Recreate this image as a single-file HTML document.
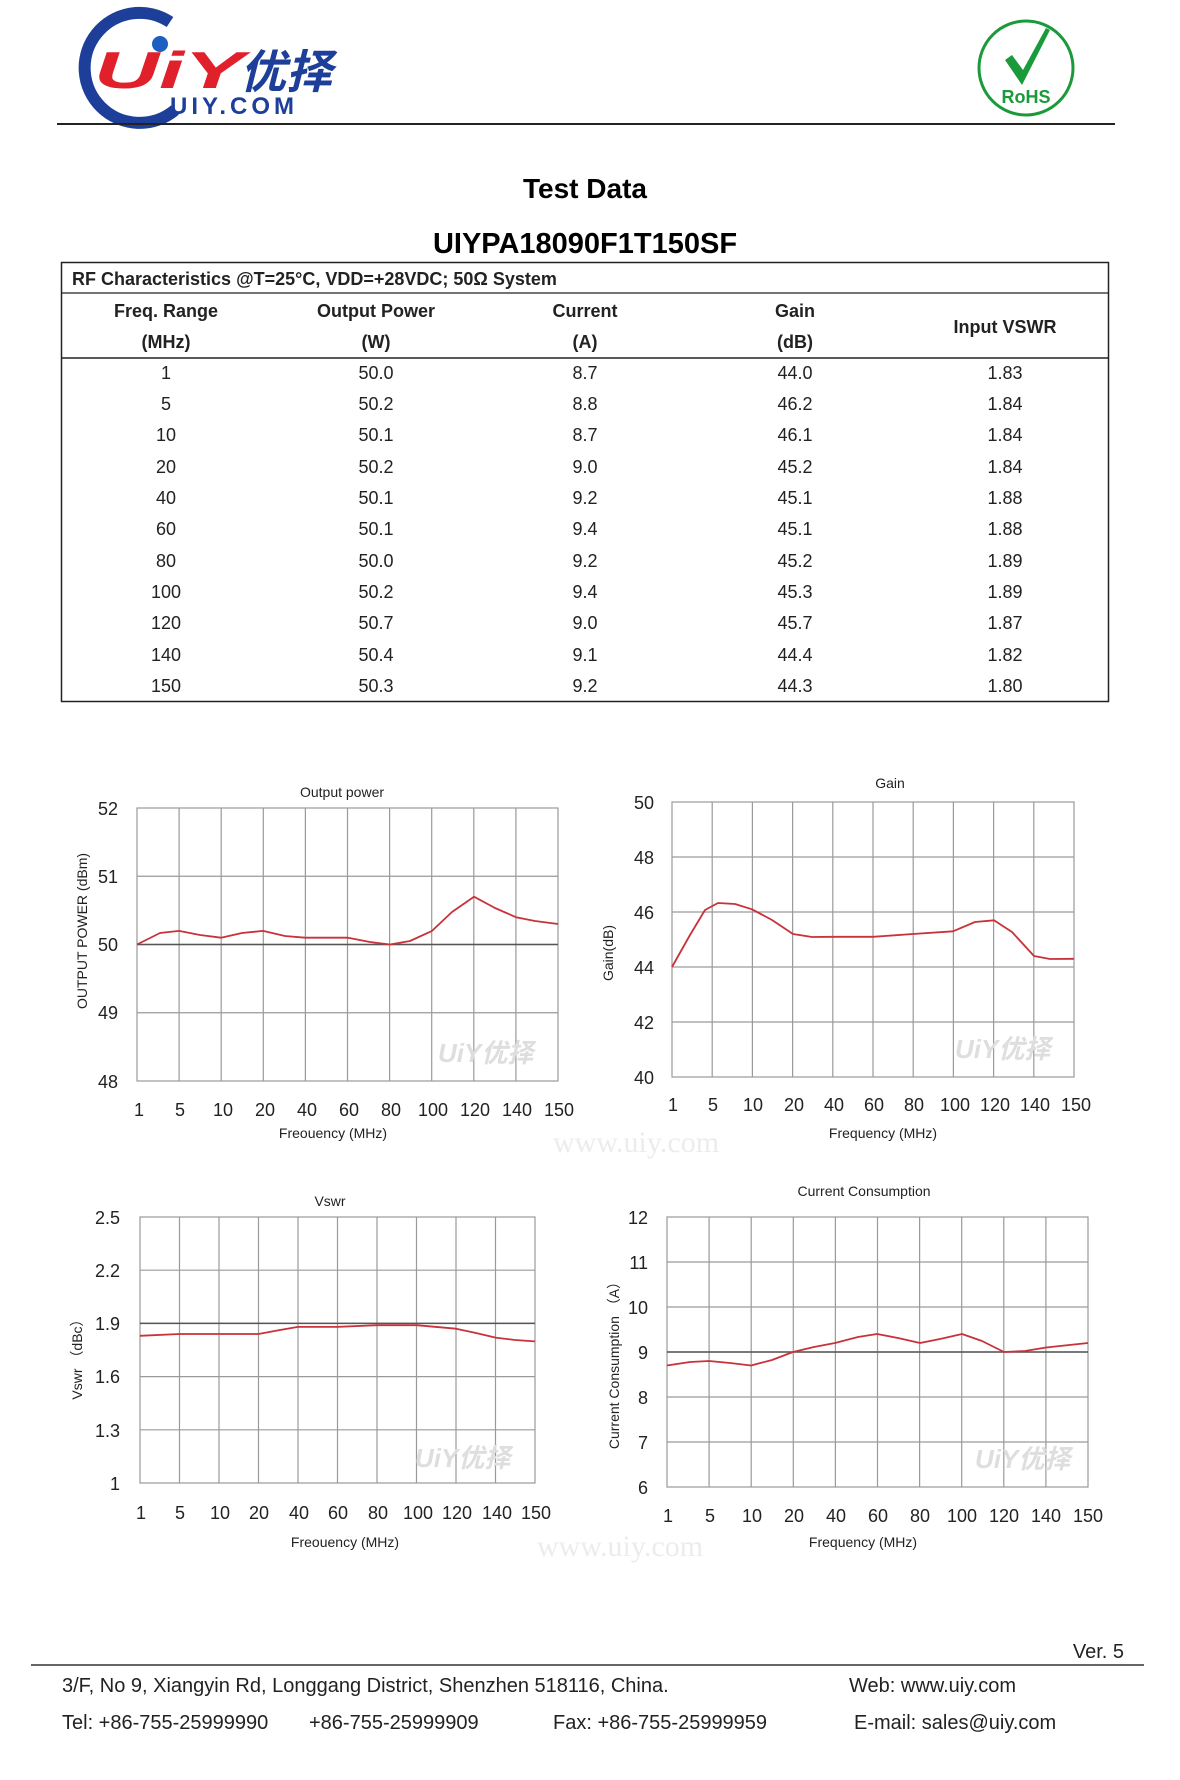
<!DOCTYPE html>
<html><head><meta charset="utf-8">
<style>
html,body{margin:0;padding:0;background:#fff;}
body{width:1180px;height:1780px;position:relative;overflow:hidden;font-family:"Liberation Sans","Noto Sans CJK SC",sans-serif;color:#111;}
</style></head><body>
<svg width="1180" height="1780" style="position:absolute;left:0;top:0" xmlns="http://www.w3.org/2000/svg" font-family="Liberation Sans, Noto Sans CJK SC, sans-serif">
<!-- logo -->
<path d="M170,22 A55,55 0 1 0 175,110" fill="none" stroke="#1d3f9a" stroke-width="12"/>
<text x="94" y="88" font-size="52" font-weight="bold" font-style="italic" fill="#e0202a" textLength="150" lengthAdjust="spacingAndGlyphs">UiY</text>
<circle cx="160" cy="44" r="8" fill="#1d5fc0"/>
<text x="240" y="88" font-size="46" font-weight="bold" font-style="italic" fill="#1d3f9a" font-family="Noto Sans CJK SC, sans-serif">优择</text>
<text x="170" y="114" font-size="24" font-weight="bold" fill="#1d3f9a" letter-spacing="4">UIY.COM</text>
<!-- RoHS -->
<circle cx="1026" cy="68" r="47" fill="none" stroke="#1a9a3a" stroke-width="3"/>
<path d="M1005,60 L1022,85 L1050,30 L1046,28 L1023,70 L1012,55 Z" fill="#1a9a3a"/>
<text x="1026" y="103" font-size="18" font-weight="bold" fill="#1a9a3a" text-anchor="middle">RoHS</text>
<line x1="57" y1="124" x2="1115" y2="124" stroke="#222" stroke-width="2"/>
<!-- titles -->
<text x="585" y="198" font-size="28" font-weight="bold" text-anchor="middle">Test Data</text>
<text x="585" y="253" font-size="29" font-weight="bold" text-anchor="middle">UIYPA18090F1T150SF</text>
<!-- table -->
<rect x="61.5" y="262.5" width="1047" height="439" fill="none" stroke="#222" stroke-width="1.5"/>
<line x1="61" y1="293" x2="1109" y2="293" stroke="#222" stroke-width="1.2"/>
<line x1="61" y1="358" x2="1109" y2="358" stroke="#222" stroke-width="1.5"/>
<text x="72" y="285" font-size="18" font-weight="bold" fill="#222">RF Characteristics @T=25°C, VDD=+28VDC; 50Ω System</text>
<g font-size="18" font-weight="bold" text-anchor="middle" fill="#222">
<text x="166" y="317">Freq. Range</text><text x="166" y="348">(MHz)</text>
<text x="376" y="317">Output Power</text><text x="376" y="348">(W)</text>
<text x="585" y="317">Current</text><text x="585" y="348">(A)</text>
<text x="795" y="317">Gain</text><text x="795" y="348">(dB)</text>
<text x="1005" y="333">Input VSWR</text>
</g>
<g font-size="18" text-anchor="middle" fill="#222">
<text x="166" y="379">1</text><text x="376" y="379">50.0</text><text x="585" y="379">8.7</text><text x="795" y="379">44.0</text><text x="1005" y="379">1.83</text>
<text x="166" y="410">5</text><text x="376" y="410">50.2</text><text x="585" y="410">8.8</text><text x="795" y="410">46.2</text><text x="1005" y="410">1.84</text>
<text x="166" y="441">10</text><text x="376" y="441">50.1</text><text x="585" y="441">8.7</text><text x="795" y="441">46.1</text><text x="1005" y="441">1.84</text>
<text x="166" y="473">20</text><text x="376" y="473">50.2</text><text x="585" y="473">9.0</text><text x="795" y="473">45.2</text><text x="1005" y="473">1.84</text>
<text x="166" y="504">40</text><text x="376" y="504">50.1</text><text x="585" y="504">9.2</text><text x="795" y="504">45.1</text><text x="1005" y="504">1.88</text>
<text x="166" y="535">60</text><text x="376" y="535">50.1</text><text x="585" y="535">9.4</text><text x="795" y="535">45.1</text><text x="1005" y="535">1.88</text>
<text x="166" y="567">80</text><text x="376" y="567">50.0</text><text x="585" y="567">9.2</text><text x="795" y="567">45.2</text><text x="1005" y="567">1.89</text>
<text x="166" y="598">100</text><text x="376" y="598">50.2</text><text x="585" y="598">9.4</text><text x="795" y="598">45.3</text><text x="1005" y="598">1.89</text>
<text x="166" y="629">120</text><text x="376" y="629">50.7</text><text x="585" y="629">9.0</text><text x="795" y="629">45.7</text><text x="1005" y="629">1.87</text>
<text x="166" y="661">140</text><text x="376" y="661">50.4</text><text x="585" y="661">9.1</text><text x="795" y="661">44.4</text><text x="1005" y="661">1.82</text>
<text x="166" y="692">150</text><text x="376" y="692">50.3</text><text x="585" y="692">9.2</text><text x="795" y="692">44.3</text><text x="1005" y="692">1.80</text>
</g>

<!-- Chart 1 -->
<g stroke="#9a9a9a" stroke-width="1.2" fill="none">
<rect x="137" y="808" width="421" height="273"/>
<path d="M179.1,808V1081M221.2,808V1081M263.3,808V1081M305.4,808V1081M347.5,808V1081M389.6,808V1081M431.7,808V1081M473.8,808V1081M515.9,808V1081"/>
<path d="M137,876.25H558M137,944.5H558M137,1012.75H558"/>
</g>
<line x1="137" y1="944.5" x2="558" y2="944.5" stroke="#555" stroke-width="1.5"/>
<polyline fill="none" stroke="#c8323a" stroke-width="1.8" stroke-linejoin="round" points="137,944.5 160,933 179,930.9 200,935 221,937.7 242,933 263,930.9 285,936 305,937.7 348,937.7 370,942 390,944.5 410,941 432,930.9 452,912 474,896.7 495,908 516,917.2 535,921 558,924"/>
<g font-size="18" fill="#222" text-anchor="end">
<text x="118" y="815">52</text><text x="118" y="883">51</text><text x="118" y="951">50</text><text x="118" y="1019">49</text><text x="118" y="1088">48</text></g>
<g font-size="18" fill="#222" text-anchor="middle">
<text x="139" y="1116">1</text><text x="180" y="1116">5</text><text x="223" y="1116">10</text><text x="265" y="1116">20</text><text x="307" y="1116">40</text><text x="349" y="1116">60</text><text x="391" y="1116">80</text><text x="433" y="1116">100</text><text x="475" y="1116">120</text><text x="517" y="1116">140</text><text x="559" y="1116">150</text></g>
<text x="342" y="797" font-size="14" text-anchor="middle" fill="#222">Output power</text>
<text x="333" y="1138" font-size="14" text-anchor="middle" fill="#222">Freouency (MHz)</text>
<text transform="translate(87,931) rotate(-90)" font-size="14" text-anchor="middle" fill="#222">OUTPUT POWER (dBm)</text>

<!-- Chart 2 -->
<g stroke="#9a9a9a" stroke-width="1.2" fill="none">
<rect x="672" y="802" width="402" height="275"/>
<path d="M712.2,802V1077M752.4,802V1077M792.6,802V1077M832.8,802V1077M873,802V1077M913.2,802V1077M953.4,802V1077M993.6,802V1077M1033.8,802V1077"/>
<path d="M672,857H1074M672,912H1074M672,967H1074M672,1022H1074"/>
</g>
<polyline fill="none" stroke="#c8323a" stroke-width="1.8" stroke-linejoin="round" points="672,967 690,935 705,910 718,903 735,904 752,909.3 772,920 793,934 812,937 833,936.8 873,936.8 913,934 953,931.3 975,922 994,920.3 1012,932 1034,956 1050,959 1074,958.8"/>
<g font-size="18" fill="#222" text-anchor="end">
<text x="654" y="809">50</text><text x="654" y="864">48</text><text x="654" y="919">46</text><text x="654" y="974">44</text><text x="654" y="1029">42</text><text x="654" y="1084">40</text></g>
<g font-size="18" fill="#222" text-anchor="middle">
<text x="673" y="1111">1</text><text x="713" y="1111">5</text><text x="753" y="1111">10</text><text x="794" y="1111">20</text><text x="834" y="1111">40</text><text x="874" y="1111">60</text><text x="914" y="1111">80</text><text x="955" y="1111">100</text><text x="995" y="1111">120</text><text x="1035" y="1111">140</text><text x="1076" y="1111">150</text></g>
<text x="890" y="788" font-size="14" text-anchor="middle" fill="#222">Gain</text>
<text x="883" y="1138" font-size="14" text-anchor="middle" fill="#222">Frequency (MHz)</text>
<text transform="translate(613,953) rotate(-90)" font-size="14" text-anchor="middle" fill="#222">Gain(dB)</text>

<!-- Chart 3 -->
<g stroke="#9a9a9a" stroke-width="1.2" fill="none">
<rect x="140" y="1217" width="395" height="266"/>
<path d="M179.5,1217V1483M219,1217V1483M258.5,1217V1483M298,1217V1483M337.5,1217V1483M377,1217V1483M416.5,1217V1483M456,1217V1483M495.5,1217V1483"/>
<path d="M140,1270.2H535M140,1323.4H535M140,1376.6H535M140,1429.8H535"/>
</g>
<line x1="140" y1="1323.4" x2="535" y2="1323.4" stroke="#555" stroke-width="1.5"/>
<polyline fill="none" stroke="#c8323a" stroke-width="1.8" stroke-linejoin="round" points="140,1335.8 179.5,1334 258.5,1334 280,1330 298,1326.9 337.5,1326.9 377,1325.2 416.5,1325.2 456,1328.7 476,1333 495.5,1337.6 515,1340 535,1341.4"/>
<g font-size="18" fill="#222" text-anchor="end">
<text x="120" y="1224">2.5</text><text x="120" y="1277">2.2</text><text x="120" y="1330">1.9</text><text x="120" y="1383">1.6</text><text x="120" y="1437">1.3</text><text x="120" y="1490">1</text></g>
<g font-size="18" fill="#222" text-anchor="middle">
<text x="141" y="1519">1</text><text x="180" y="1519">5</text><text x="220" y="1519">10</text><text x="259" y="1519">20</text><text x="299" y="1519">40</text><text x="338" y="1519">60</text><text x="378" y="1519">80</text><text x="418" y="1519">100</text><text x="457" y="1519">120</text><text x="497" y="1519">140</text><text x="536" y="1519">150</text></g>
<text x="330" y="1206" font-size="14" text-anchor="middle" fill="#222">Vswr</text>
<text x="345" y="1547" font-size="14" text-anchor="middle" fill="#222">Freouency (MHz)</text>
<text transform="translate(82,1356) rotate(-90)" font-size="14" text-anchor="middle" fill="#222">Vswr （dBc）</text>

<!-- Chart 4 -->
<g stroke="#9a9a9a" stroke-width="1.2" fill="none">
<rect x="667" y="1217" width="421" height="270"/>
<path d="M709.1,1217V1487M751.2,1217V1487M793.3,1217V1487M835.4,1217V1487M877.5,1217V1487M919.6,1217V1487M961.7,1217V1487M1003.8,1217V1487M1045.9,1217V1487"/>
<path d="M667,1262H1088M667,1307H1088M667,1352H1088M667,1397H1088M667,1442H1088"/>
</g>
<line x1="667" y1="1352" x2="1088" y2="1352" stroke="#555" stroke-width="1.5"/>
<polyline fill="none" stroke="#c8323a" stroke-width="1.8" stroke-linejoin="round" points="667,1365.5 690,1362 709,1361 730,1363 751,1365.5 772,1360 793,1352 814,1347 835,1343 858,1337 877,1334 898,1338 920,1343 940,1339 962,1334 982,1341 1004,1352 1025,1351 1046,1347.5 1088,1343"/>
<g font-size="18" fill="#222" text-anchor="end">
<text x="648" y="1224">12</text><text x="648" y="1269">11</text><text x="648" y="1314">10</text><text x="648" y="1359">9</text><text x="648" y="1404">8</text><text x="648" y="1449">7</text><text x="648" y="1494">6</text></g>
<g font-size="18" fill="#222" text-anchor="middle">
<text x="668" y="1522">1</text><text x="710" y="1522">5</text><text x="752" y="1522">10</text><text x="794" y="1522">20</text><text x="836" y="1522">40</text><text x="878" y="1522">60</text><text x="920" y="1522">80</text><text x="962" y="1522">100</text><text x="1004" y="1522">120</text><text x="1046" y="1522">140</text><text x="1088" y="1522">150</text></g>
<text x="864" y="1196" font-size="14" text-anchor="middle" fill="#222">Current Consumption</text>
<text x="863" y="1547" font-size="14" text-anchor="middle" fill="#222">Frequency (MHz)</text>
<text transform="translate(619,1362) rotate(-90)" font-size="14" text-anchor="middle" fill="#222">Current Consumption （A）</text>

<!-- watermarks -->
<g fill="#ececec" font-family="Liberation Serif, serif" font-size="30" text-anchor="middle">
<text x="636" y="1152">www.uiy.com</text><text x="620" y="1556">www.uiy.com</text></g>
<g fill="#dedede" font-size="26" font-weight="bold" font-style="italic">
<text x="438" y="1062">UiY优择</text><text x="955" y="1058">UiY优择</text><text x="415" y="1467">UiY优择</text><text x="975" y="1468">UiY优择</text></g>

<!-- footer -->
<line x1="31" y1="1665" x2="1144" y2="1665" stroke="#333" stroke-width="1.5"/>
<g font-size="20" fill="#222">
<text x="1124" y="1658" text-anchor="end">Ver. 5</text>
<text x="62" y="1692">3/F, No 9, Xiangyin Rd, Longgang District, Shenzhen 518116, China.</text>
<text x="849" y="1692">Web: www.uiy.com</text>
<text x="62" y="1729">Tel: +86-755-25999990</text>
<text x="309" y="1729">+86-755-25999909</text>
<text x="553" y="1729">Fax: +86-755-25999959</text>
<text x="854" y="1729">E-mail: sales@uiy.com</text>
</g>
</svg>
</body></html>
